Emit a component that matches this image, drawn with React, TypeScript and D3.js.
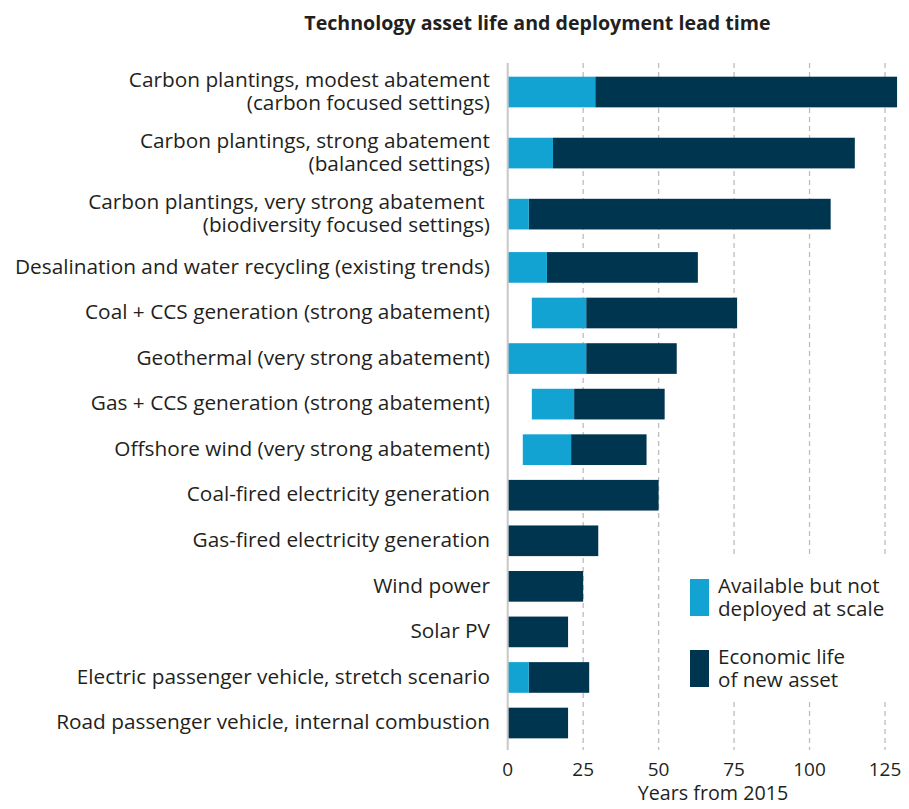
import React from "react";
import * as d3 from "d3";

const categories: string[][] = [
  ["Carbon plantings, modest abatement", "(carbon focused settings)"],
  ["Carbon plantings, strong abatement", "(balanced settings)"],
  ["Carbon plantings, very strong abatement ", "(biodiversity focused settings)"],
  ["Desalination and water recycling (existing trends)"],
  ["Coal + CCS generation (strong abatement)"],
  ["Geothermal (very strong abatement)"],
  ["Gas + CCS generation (strong abatement)"],
  ["Offshore wind (very strong abatement)"],
  ["Coal-fired electricity generation"],
  ["Gas-fired electricity generation"],
  ["Wind power"],
  ["Solar PV"],
  ["Electric passenger vehicle, stretch scenario"],
  ["Road passenger vehicle, internal combustion"],
];

// Available but not deployed at scale: start and end year offsets
const availableStart: number[] = [0, 0, 0, 0, 8, 0, 8, 5, 0, 0, 0, 0, 0, 0];
const availableEnd: number[] = [29, 15, 7, 13, 26, 26, 22, 21, 0, 0, 0, 0, 7, 0];
// Economic life of new asset ends at
const lifeEnd: number[] = [129, 115, 107, 63, 76, 56, 52, 46, 50, 30, 25, 20, 27, 20];

const xTicks: number[] = [0, 25, 50, 75, 100, 125];

const legendItems = [
  { lines: ["Available but not", "deployed at scale"], key: "avail" },
  { lines: ["Economic life", "of new asset"], key: "life" },
];

const LIGHT = "#12a3d3";
const DARK = "#003550";
const TEXT = "#231f20";
const FONT = "'Open Sans', 'Noto Sans', sans-serif";

export default function App() {
  const width = 909;
  const height = 809;
  const x0 = 507.7;
  const x = d3.scaleLinear().domain([0, 125]).range([x0, 885]);

  const weights = categories.map((c) => (c.length > 1 ? 1.34 : 1));
  const cum = [0, ...d3.cumsum(weights)];
  const total = cum[cum.length - 1];
  const y = d3.scaleLinear().domain([0, total]).range([61.5, 745.8]);
  const unit = y(1) - y(0);
  const barH = unit * 0.673;
  const centers = weights.map((w, i) => y(cum[i] + w / 2));

  const plotTop = 63;
  const plotBottom = 750;

  return (
    <svg width={width} height={height} style={{ display: "block", position: "absolute", left: 0, top: 0 }} fontFamily={FONT}>
      <rect x={0} y={0} width={width} height={height} fill="#fff" />
      <text x={537.5} y={30} textAnchor="middle" fontSize={19.6} fontWeight={700} fill={TEXT}>
        Technology asset life and deployment lead time
      </text>

      {/* gridlines */}
      {xTicks.filter((t) => t > 0).map((t) => (
        <line key={t} x1={x(t)} x2={x(t)} y1={plotTop} y2={plotBottom} stroke="#bdbdbd" strokeWidth={1.3} strokeDasharray="5,4" />
      ))}

      {/* bars */}
      {categories.map((c, i) => {
        const cy = centers[i];
        return (
          <g key={i}>
            <rect x={x(availableEnd[i])} y={cy - barH / 2} width={x(lifeEnd[i]) - x(availableEnd[i])} height={barH} fill={DARK} />
            {availableEnd[i] > availableStart[i] && (
              <rect x={x(availableStart[i])} y={cy - barH / 2} width={x(availableEnd[i]) - x(availableStart[i])} height={barH} fill={LIGHT} />
            )}
          </g>
        );
      })}

      {/* legend background */}
      <rect x={680} y={558} width={229} height={142} fill="#fff" />
      {legendItems.map((it, i) => {
        const top = 579 + i * 71;
        return (
          <g key={it.key}>
            <rect x={690} y={top} width={19} height={37} fill={it.key === "avail" ? LIGHT : DARK} />
            {it.lines.map((ln, j) => (
              <text key={j} x={718} y={top + 13.5 + j * 23.2} fontSize={20.6} fill={TEXT}>
                {ln}
              </text>
            ))}
          </g>
        );
      })}

      {/* y axis line */}
      <line x1={x0} x2={x0} y1={plotTop} y2={plotBottom} stroke="#c8c8c8" strokeWidth={2} />

      {/* category labels */}
      {categories.map((c, i) => {
        const cy = centers[i];
        const n = c.length;
        const lh = 23.2;
        return (
          <text key={i} textAnchor="end" fontSize={20.8} fill={TEXT}>
            {c.map((ln, j) => (
              <tspan key={j} x={490} y={cy + 6.2 + (j - (n - 1) / 2) * lh} style={{ whiteSpace: "pre" }}>
                {ln}
              </tspan>
            ))}
          </text>
        );
      })}

      {/* x ticks */}
      {xTicks.map((t) => (
        <text key={t} x={x(t)} y={776} textAnchor="middle" fontSize={19} fill={TEXT}>
          {t}
        </text>
      ))}
      <text x={713} y={800} textAnchor="middle" fontSize={19.7} fill={TEXT}>
        Years from 2015
      </text>
    </svg>
  );
}
